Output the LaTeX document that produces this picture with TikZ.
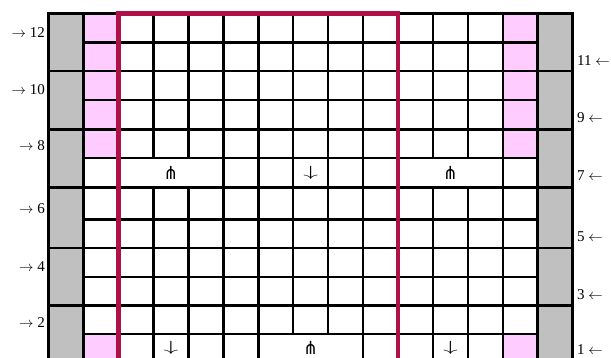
\documentclass[tikz,border=0pt]{standalone}
\usepackage{fontspec}
\setmainfont{Liberation Serif}
\newfontfamily\symfont{DejaVu Sans}
\definecolor{bordo}{RGB}{176,16,72}
\definecolor{pinkcell}{RGB}{255,204,255}
\definecolor{graycell}{RGB}{192,192,192}
\newcommand{\pfk}{{\symfont\fontsize{18}{18}\selectfont ⋔}}
\newcommand{\dnarr}{\scalebox{1.7}[0.85]{\fontsize{16}{16}\selectfont$\downarrow$}}
\tikzset{
  gridline/.style={draw=black, line width=2.5pt},
  redframe/.style={draw=bordo, line width=4.8pt},
  sym/.style={inner sep=0pt},
  lbl/.style={inner sep=0pt, font=\fontsize{15}{15}\selectfont},
}
\begin{document}
\begin{tikzpicture}[x=1pt,y=-1pt]
\useasboundingbox (0,0) rectangle (611,358);
\clip (0,0) rectangle (611,358);
% column x positions: 48.7 + 34.93 k
\def\cw{34.93}
\def\xo{48.7}
% fills
\fill[graycell] (\xo,13.3) rectangle (\xo+\cw,370);
\fill[graycell] (\xo+14*\cw,13.3) rectangle (\xo+15*\cw,370);
\fill[pinkcell] (\xo+\cw,13.3) rectangle (\xo+2*\cw,158);
\fill[pinkcell] (\xo+\cw,334) rectangle (\xo+2*\cw,370);
\fill[pinkcell] (\xo+13*\cw,13.3) rectangle (\xo+14*\cw,158);
\fill[pinkcell] (\xo+13*\cw,334) rectangle (\xo+14*\cw,370);
% horizontal lines
\foreach \yy in {13.3,71,129.3,187.5,248,305.3}
  \draw[gridline, line cap=rect] (\xo,\yy) -- (\xo+15*\cw,\yy);
\foreach \yy in {42.7,100,158,219.7,277,334}
  \draw[gridline] (\xo+\cw,\yy) -- (\xo+14*\cw,\yy);
% vertical lines, full height
\foreach \k in {0,1,2,5,6,9,10,13,14,15}
  \draw[gridline, line cap=rect] (\xo+\k*\cw,13.3) -- (\xo+\k*\cw,370);
% vertical lines interrupted in row 7
\foreach \k in {3,4,11,12} {
  \draw[gridline] (\xo+\k*\cw,13.3) -- (\xo+\k*\cw,158);
  \draw[gridline] (\xo+\k*\cw,187.5) -- (\xo+\k*\cw,370);
}
% vertical lines interrupted in row 1
\foreach \k in {7,8}
  \draw[gridline] (\xo+\k*\cw,13.3) -- (\xo+\k*\cw,334);
% red frame
\coordinate (rbl) at (\xo+2*\cw,370);
\coordinate (rtl) at (\xo+2*\cw,13.3);
\coordinate (rtr) at (\xo+10*\cw,13.3);
\coordinate (rbr) at (\xo+10*\cw,370);
\draw[redframe] (rbl) -- (rtl) -- (rtr) -- (rbr);
% symbols row 7
\node[sym] (s7a) at (171,173) {\pfk};
\node[sym] (s7b) at (310.7,173) {\dnarr};
\node[sym] (s7c) at (450.4,173) {\pfk};
% symbols row 1
\node[sym] (s1a) at (171,348) {\dnarr};
\node[sym] (s1b) at (310.7,348) {\pfk};
\node[sym] (s1c) at (450.4,348) {\dnarr};
% left labels
\node[lbl, anchor=base east] (l12) at (45,37.3) {$\rightarrow$ 12};
\node[lbl, anchor=base east] (l10) at (45,94.3) {$\rightarrow$ 10};
\node[lbl, anchor=base east] (l8) at (45,151) {$\rightarrow$ 8};
\node[lbl, anchor=base east] (l6) at (45,213.7) {$\rightarrow$ 6};
\node[lbl, anchor=base east] (l4) at (45,271.3) {$\rightarrow$ 4};
\node[lbl, anchor=base east] (l2) at (45,328) {$\rightarrow$ 2};
% right labels
\node[lbl, anchor=base west] (r11) at (577,65.7) {11 $\leftarrow$};
\node[lbl, anchor=base west] (r9) at (577,122.3) {9 $\leftarrow$};
\node[lbl, anchor=base west] (r7) at (577,181) {7 $\leftarrow$};
\node[lbl, anchor=base west] (r5) at (577,241.3) {5 $\leftarrow$};
\node[lbl, anchor=base west] (r3) at (577,299.7) {3 $\leftarrow$};
\node[lbl, anchor=base west] (r1) at (577,354.5) {1 $\leftarrow$};
\end{tikzpicture}
\end{document}
